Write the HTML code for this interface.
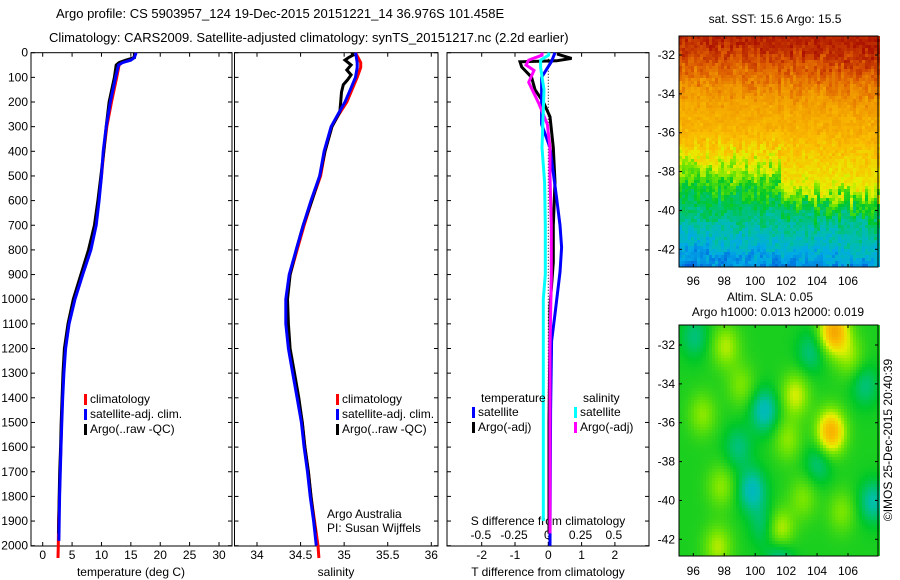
<!DOCTYPE html>
<html><head><meta charset="utf-8"><style>
html,body{margin:0;padding:0;background:#fff;}
svg{display:block;font-family:"Liberation Sans",sans-serif;}
text{fill:#000;font-size:12px;}
</style></head><body>
<svg id="fig" width="900" height="580" viewBox="0 0 900 580" xmlns="http://www.w3.org/2000/svg">
<rect width="900" height="580" fill="#fff"/>
<text x="56" y="18" style="font-size:13px">Argo profile: CS 5903957_124 19-Dec-2015 20151221_14 36.976S 101.458E</text>
<text x="49" y="42" style="font-size:13px">Climatology: CARS2009. Satellite-adjusted climatology: synTS_20151217.nc (2.2d earlier)</text>
<g id="p1"></g>
<g id="p2"></g>
<g id="p3"></g>
<g id="m1"></g>
<g id="m2"></g>
<text x="775" y="23" text-anchor="middle">sat. SST: 15.6 Argo: 15.5</text>
<text x="770" y="301" text-anchor="middle">Altim. SLA: 0.05</text>
<text x="778" y="316" text-anchor="middle">Argo h1000: 0.013 h2000: 0.019</text>
<text transform="translate(892,440) rotate(-90)" text-anchor="middle">©IMOS 25-Dec-2015 20:40:39</text>
</svg>
<script>
// ---------- data ----------
const tClimDepth=[0,20,30,40,50,100,200,300,400,500,600,700,800,900,1000,1100,1200,1300,1400,1500,1600,1700,1800,1900,2000,2050];
const tClim=[15.8,15.5,14.8,13.5,13.0,12.6,11.7,10.9,10.4,10.0,9.5,8.9,7.9,6.6,5.3,4.4,3.8,3.5,3.35,3.2,3.1,2.95,2.85,2.7,2.65,2.6];
const tSatDepth=[0,20,30,40,50,100,200,300,400,500,600,700,800,900,1000,1100,1200,1300,1400,1500,1600,1700,1800,1980];
const tSat=[15.9,15.6,15.0,13.6,12.9,12.4,11.5,10.8,10.3,10.0,9.6,9.1,8.2,6.8,5.5,4.5,3.9,3.6,3.4,3.25,3.12,3.0,2.88,2.75];
const tArgoDepth=[0,20,30,40,50,100,200,300,400,500,600,700,800,900,1000,1100,1200,1300,1400,1500,1600,1700,1800,1950];
const tArgo=[15.6,15.6,14.2,13.0,12.5,12.2,11.3,10.8,10.4,9.9,9.4,8.8,7.8,6.5,5.2,4.3,3.7,3.45,3.3,3.15,3.05,2.9,2.8,2.7];

const sClimDepth=[0,20,40,60,100,150,200,250,300,400,500,600,700,800,900,1000,1100,1200,1300,1400,1500,1600,1700,1800,1900,2000,2050];
const sClim=[35.13,35.16,35.19,35.19,35.15,35.09,35.03,34.94,34.86,34.78,34.73,34.63,34.54,34.46,34.38,34.34,34.34,34.37,34.42,34.47,34.52,34.55,34.59,34.62,34.66,34.70,34.71];
const sSatDepth=[0,20,40,60,100,150,200,250,300,400,500,600,700,800,900,1000,1100,1200,1300,1400,1500,1600,1700,1800,1900,2000];
const sSat=[35.13,35.14,35.15,35.15,35.13,35.07,35.01,34.93,34.85,34.77,34.72,34.62,34.53,34.45,34.37,34.33,34.33,34.36,34.41,34.46,34.51,34.54,34.58,34.61,34.65,34.68];
const sArgoDepth=[0,10,20,30,50,70,90,110,130,160,200,240,300,400,500,600,700,800,900,1000,1100,1200,1300,1400,1500,1600,1700,1800,1950];
const sArgo=[35.09,35.10,35.05,35.01,35.08,35.03,35.08,35.04,34.99,34.97,34.96,34.95,34.86,34.78,34.72,34.63,34.53,34.45,34.38,34.35,34.36,34.38,34.43,34.48,34.52,34.55,34.59,34.62,34.67];

const tSatDiffDepth=[0,35,100,290,385,590,700,790,890,1060,1170,1450,2000];
const tSatDiff=[0.2,0.1,-0.2,-0.2,0.05,0.25,0.35,0.4,0.35,0.2,0.1,0.07,0.05];
const tArgoDiffDepth=[0,7,23,33,37,58,100,150,200,260,385,525,700,850,1030,1130,1500,1950];
const tArgoDiff=[0.3,0.3,0.7,0.25,-0.85,-0.8,-0.5,-0.4,-0.15,0.05,0.15,0.2,0.15,0.15,0.05,0.05,0.02,0.02];
const sSatDiffDepth=[0,10,30,60,150,385,525,700,900,1000,1500,1900];
const sSatDiff=[0.013,0.01,-0.05,-0.05,-0.025,-0.04,-0.02,-0.015,-0.015,-0.03,-0.03,-0.03];
const sArgoDiffDepth=[0,10,30,50,72,120,210,290,385,500,700,900,1200,1500,1950];
const sArgoDiff=[-0.04,-0.04,-0.14,-0.16,-0.1,-0.14,-0.06,0,0.02,0.02,0.03,0.03,0.02,0.02,0.02];

const depthTicks=[0,100,200,300,400,500,600,700,800,900,1000,1100,1200,1300,1400,1500,1600,1700,1800,1900,2000];
const tTicks=[0,5,10,15,20,25,30];
const sTicks=[34,34.5,35,35.5,36];
const sTickLabels=["34","34.5","35","35.5","36"];
const dTTicks=[-2,-1,0,1,2];
const dSTicks=[-0.5,-0.25,0,0.25,0.5];
const dSTickLabels=["-0.5","-0.25","0","0.25","0.5"];
const lonTicks=[96,98,100,102,104,106];
const latTicks=[-32,-34,-36,-38,-40,-42];

// ---------- helpers ----------
const NS="http://www.w3.org/2000/svg";
function mk(parent,tag,attrs,txt){const e=document.createElementNS(NS,tag);for(const k in attrs)e.setAttribute(k,attrs[k]);if(txt!==undefined)e.textContent=txt;parent.appendChild(e);return e;}
const TOP=52.7, BOT=546, D2Y=0.2465;
const yD=d=>TOP+d*D2Y;
function lin(d0,d1,r0,r1){return v=>r0+(v-d0)*(r1-r0)/(d1-d0);}

function frame(g,x0,x1){
  const r=mk(g,'rect',{x:x0,y:TOP,width:x1-x0,height:BOT-TOP,fill:'none',stroke:'#000','stroke-width':1});
  
  
  depthTicks.forEach(d=>{
    mk(g,'line',{x1:x0,x2:x0+4,y1:yD(d),y2:yD(d),stroke:'#000'});
    mk(g,'line',{x1:x1-4,x2:x1,y1:yD(d),y2:yD(d),stroke:'#000'});
  });
}
function xticks(g,x,vals,labels,y0,y1,labY){
  vals.forEach((v,i)=>{
    mk(g,'line',{x1:x(v),x2:x(v),y1:y0,y2:y0-4,stroke:'#000'});
    if(y1!==null) mk(g,'line',{x1:x(v),x2:x(v),y1:y1,y2:y1+4,stroke:'#000'});
    const t=mk(g,'text',{x:x(v),y:labY,'text-anchor':'middle'},labels?labels[i]:String(v));
    
    
  });
}
function line(g,x,depths,vals,color,w,name){
  const pts=depths.map((d,i)=>x(vals[i]).toFixed(1)+','+yD(d).toFixed(1)).join(' ');
  const p=mk(g,'polyline',{points:pts,fill:'none',stroke:color,'stroke-width':w,'stroke-linejoin':'miter'});
  
  
}
function legend(g,x,y,items){
  items.forEach((it,i)=>{
    mk(g,'rect',{x:x,y:y+i*15-9,width:3,height:11,fill:it[0]});
    const t=mk(g,'text',{x:x+6,y:y+i*15},it[1]);
    
    
  });
}

// ---------- panel 1 ----------
const p1=document.getElementById('p1');
const xT=lin(0,30,42.7,219);
frame(p1,31,232);
depthTicks.forEach(d=>{const t=mk(p1,'text',{x:28,y:yD(d)+4,'text-anchor':'end'},String(d));
  });
xticks(p1,xT,tTicks,null,BOT,TOP,559);
mk(p1,'text',{x:131,y:576,'text-anchor':'middle'},'temperature (deg C)');
line(p1,xT,tClimDepth,tClim,'#f00',3,'temp-climatology-line');
line(p1,xT,tArgoDepth,tArgo,'#000',3,'temp-argo-line');
line(p1,xT,tSatDepth,tSat,'#00f',3,'temp-satellite-line');
legend(p1,84,403,[['#f00','climatology'],['#00f','satellite-adj. clim.'],['#000','Argo(..raw -QC)']]);

// ---------- panel 2 ----------
const p2=document.getElementById('p2');
const xS=lin(34,36,257,431.3);
frame(p2,234.5,438);
xticks(p2,xS,sTicks,sTickLabels,BOT,TOP,559);
mk(p2,'text',{x:336,y:576,'text-anchor':'middle'},'salinity');
line(p2,xS,sClimDepth,sClim,'#f00',3,'sal-climatology-line');
line(p2,xS,sArgoDepth,sArgo,'#000',3,'sal-argo-line');
line(p2,xS,sSatDepth,sSat,'#00f',3,'sal-satellite-line');
legend(p2,336,403,[['#f00','climatology'],['#00f','satellite-adj. clim.'],['#000','Argo(..raw -QC)']]);
mk(p2,'text',{x:327,y:518},'Argo Australia');
mk(p2,'text',{x:327,y:532},'PI: Susan Wijffels');

// ---------- panel 3 ----------
const p3=document.getElementById('p3');
const xDT=lin(0,1,548.3,581.6);
const xDS=lin(0,1,547.3,680.3);
frame(p3,447,649);
xticks(p3,xDT,dTTicks,null,BOT,TOP,559);
dSTicks.forEach((v,i)=>{const t=mk(p3,'text',{x:xDS(v),y:539,'text-anchor':'middle'},dSTickLabels[i]);
  });
mk(p3,'text',{x:548,y:525,'text-anchor':'middle'},'S difference from climatology');
mk(p3,'text',{x:548,y:576,'text-anchor':'middle'},'T difference from climatology');
mk(p3,'line',{x1:xDT(0),x2:xDT(0),y1:TOP,y2:BOT,stroke:'#000','stroke-dasharray':'1,2'});
line(p3,xDT,tArgoDiffDepth,tArgoDiff,'#000',3,'tdiff-argo-line');
line(p3,xDT,tSatDiffDepth,tSatDiff,'#00f',3,'tdiff-satellite-line');
line(p3,xDS,sArgoDiffDepth,sArgoDiff,'#f0f',3,'sdiff-argo-line');
line(p3,xDS,sSatDiffDepth,sSatDiff,'#0ff',3,'sdiff-satellite-line');
mk(p3,'text',{x:481,y:402},'temperature');
mk(p3,'text',{x:583,y:402},'salinity');
legend(p3,472,416,[['#00f','satellite'],['#000','Argo(-adj)']]);
legend(p3,574,416,[['#0ff','satellite'],['#f0f','Argo(-adj)']]);

// ---------- maps ----------
function jet(v){
  const stops=[[0,[0,40,180]],[0.15,[0,90,220]],[0.27,[0,170,230]],[0.35,[0,190,170]],[0.43,[0,200,40]],[0.52,[120,230,0]],[0.58,[230,240,0]],[0.66,[250,190,0]],[0.76,[240,150,0]],[0.86,[220,90,0]],[1,[160,0,0]]];
  v=Math.max(0,Math.min(1,v));
  for(let i=1;i<stops.length;i++){if(v<=stops[i][0]){const a=stops[i-1],b=stops[i],f=(v-a[0])/(b[0]-a[0]);
    return 'rgb('+a[1].map((c,k)=>Math.round(c+(b[1][k]-c)*f)).join(',')+')';}}
  return 'rgb(160,0,0)';
}
function hash(i,j){let h=(i*374761393+j*668265263)|0;h=(h^(h>>>13))*1274126177|0;return ((h^(h>>>16))>>>0)/4294967296;}
function mapFrame(g,x0,y0,x1,y1,lonX,latY,labY){
  mk(g,'rect',{x:x0,y:y0,width:x1-x0,height:y1-y0,fill:'none',stroke:'#000'});
  lonTicks.forEach(l=>{mk(g,'line',{x1:lonX(l),x2:lonX(l),y1:y0,y2:y0+3,stroke:'#000'});
    mk(g,'line',{x1:lonX(l),x2:lonX(l),y1:y1,y2:y1-3,stroke:'#000'});
    const t=mk(g,'text',{x:lonX(l),y:labY,'text-anchor':'middle'},String(l));
    });
  latTicks.forEach(l=>{mk(g,'line',{x1:x0,x2:x0+3,y1:latY(l),y2:latY(l),stroke:'#000'});
    mk(g,'line',{x1:x1-3,x2:x1,y1:latY(l),y2:latY(l),stroke:'#000'});
    const t=mk(g,'text',{x:x0-4,y:latY(l)+4,'text-anchor':'end'},String(l));
    });
}
// SST map
const m1=document.getElementById('m1');
const M1={x0:679,y0:36,x1:878,y1:267};
const lonX1=lin(96,106,693.3,848), latY1=lin(-32,-42,55,249.3);
const sstLat=[-31,-32.5,-34,-36.3,-37.5,-39,-40.5,-42,-43];
const sstVal=[0.95,0.84,0.74,0.66,0.55,0.42,0.36,0.27,0.18];
function sstAt(lat,lon){
  let i=0;while(i<sstLat.length-2&&lat<sstLat[i+1])i++;
  const f=(lat-sstLat[i])/(sstLat[i+1]-sstLat[i]);let v=sstVal[i]+(sstVal[i+1]-sstVal[i])*Math.max(0,Math.min(1,f));
  if(lat<-36.5&&lat>-39.8&&lon>101.5) v+=0.1*Math.exp(-Math.pow((lat+38.2)/1.1,2));
  return v;
}
for(let y=M1.y0;y<M1.y1;y+=3){for(let x=M1.x0;x<M1.x1;x+=3){
  const lat=-32+(y-55)/-19.43, lon=96+(x-693.3)/15.47;
  const v=sstAt(lat+(hash(x>>2,(y+x)>>3)-0.5)*1.2+(x-M1.x0)*0.003,lon)+(hash(x,y)-0.5)*0.05;
  mk(m1,'rect',{x:x,y:y,width:3,height:3,fill:jet(v)});
}}
mapFrame(m1,M1.x0,M1.y0,M1.x1,M1.y1,lonX1,latY1,285);
// SLA map
const m2=document.getElementById('m2');
const M2={x0:679,y0:325,x1:878,y1:556};
const lonX2=lin(96,106,693.3,848), latY2=lin(-32,-42,345,539.3);
const blobLon=[105,104.8,100.5,99.7,107.5,101.5,96,103.5,98.8,104,100.5,107,98,102.5,101.5,97.5,97.7,102,105.5,96.5,106,99,103];
const blobLat=[-31.2,-36.4,-35.3,-39.4,-40,-42.8,-31.5,-32.3,-37.2,-38,-41.2,-34,-32,-34.5,-41.5,-42.3,-39.2,-36.8,-40.5,-35.5,-32.5,-34,-39.8];
const blobAmp=[0.26,0.24,-0.12,-0.12,-0.1,-0.1,-0.07,-0.07,-0.07,-0.07,-0.07,-0.07,0.1,0.12,0.13,0.1,0.08,0.08,0.07,0.08,0.08,0.07,0.07];
for(let y=M2.y0;y<M2.y1;y+=3){for(let x=M2.x0;x<M2.x1;x+=3){
  const lat=-32+(y-345)/-19.43, lon=96+(x-693.3)/15.47;
  let v=0.45;
  for(let k=0;k<blobLon.length;k++){const dx=(lon-blobLon[k])/0.9, dy=(lat-blobLat[k])/1.1;v+=blobAmp[k]*Math.exp(-(dx*dx+dy*dy));}
  mk(m2,'rect',{x:x,y:y,width:3,height:3,fill:jet(v)});
}}
mapFrame(m2,M2.x0,M2.y0,M2.x1,M2.y1,lonX2,latY2,575);
</script>
</body></html>
